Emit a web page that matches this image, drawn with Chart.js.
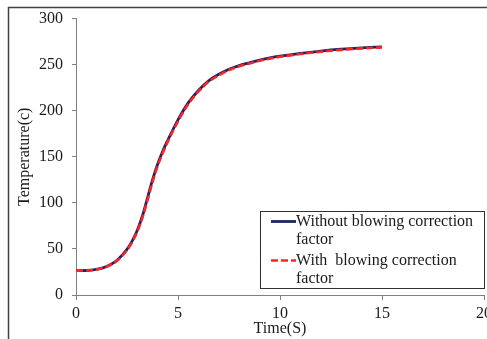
<!DOCTYPE html>
<html>
<head>
<meta charset="utf-8">
<script src="https://cdn.jsdelivr.net/npm/chart.js@4/dist/chart.umd.min.js"></script>
<style>
  html, body { margin: 0; padding: 0; overflow: hidden; background: #fff; }
  #wrap { position: relative; width: 487px; height: 339px; overflow: hidden; }
  #wrap canvas { position: absolute; left: 0; top: 0; }
</style>
</head>
<body>
<div id="wrap"><canvas id="c" width="500" height="339" style="width:500px;height:339px"></canvas></div>
<script>
// ---- data ----
const times = [0,0.5,1,1.5,2,2.5,2.75,3,3.25,3.5,3.75,4,4.25,4.5,5,5.5,6,6.5,7,7.5,8,8.5,9,9.5,10,11,12,13,14,15];
const withoutCorrection = [26.5,26.6,27.8,31,37.5,49.5,58.5,70,85.5,105,125,142,156,168,190,208.5,222,232.5,239.5,245,249,252,255,257.3,259.2,262.3,264.8,266.8,268.3,269.4];
const withCorrection = [26.5,26.6,27.6,30.7,37,48.7,57.3,68.5,83.5,102.5,122.5,140,154,166.5,188.5,207,220.8,231.5,238.5,244.2,248.2,251.3,254.3,256.6,258.5,261.6,264.1,266.1,267.7,268.8];
const seriesLabels = ["Without blowing correction factor", "With  blowing correction factor"];
const xTitle = "Time(S)";
const yTitle = "Temperature(c)";
const xTicks = [0,5,10,15,20];
const yTicks = [0,50,100,150,200,250,300];

const FONT = "'Liberation Serif', 'Times New Roman', serif";

function pts(xs, ys) { return xs.map((x, i) => ({x: x, y: ys[i]})); }

const framePlugin = {
  id: 'frame',
  beforeDraw(chart) {
    const ctx = chart.ctx;
    ctx.save();
    ctx.strokeStyle = '#404040';
    ctx.lineWidth = 1.5;
    ctx.beginPath();
    ctx.moveTo(8.5, 339);
    ctx.lineTo(8.5, 7.5);
    ctx.lineTo(500, 7.5);
    ctx.stroke();
    ctx.restore();
  }
};

const legendPlugin = {
  id: 'boxLegend',
  afterDraw(chart) {
    const ctx = chart.ctx;
    const bx = 260.5, by = 211.5, bw = 224, bh = 77;
    ctx.save();
    ctx.fillStyle = '#fff';
    ctx.fillRect(bx, by, bw, bh);
    ctx.strokeStyle = '#303030';
    ctx.lineWidth = 1;
    ctx.strokeRect(bx, by, bw, bh);
    ctx.font = '16px ' + FONT;
    ctx.textBaseline = 'middle';
    ctx.textAlign = 'left';
    const textX = 296, maxW = 185;
    let y = 221.5;
    chart.data.datasets.forEach((ds) => {
      const words = ds.label.split(' ');
      const lines = [];
      let cur = '';
      words.forEach((w) => {
        const test = cur === '' ? w : cur + ' ' + w;
        if (ctx.measureText(test).width > maxW && cur !== '') { lines.push(cur); cur = w; }
        else cur = test;
      });
      if (cur !== '') lines.push(cur);
      ctx.save();
      ctx.strokeStyle = ds.borderColor;
      ctx.lineWidth = ds.borderWidth;
      ctx.setLineDash(ds.borderDash || []);
      ctx.beginPath();
      ctx.moveTo(271, y);
      ctx.lineTo(296, y);
      ctx.stroke();
      ctx.restore();
      ctx.fillStyle = '#1a1a1a';
      lines.forEach((ln, k) => {
        ctx.fillText(ln.replace(/ {2}/g, '\u00a0 '), textX, y + k * 18);
      });
      y += (lines.length - 1) * 18 + 21;
    });
    ctx.restore();
  }
};

new Chart(document.getElementById('c'), {
  type: 'line',
  data: {
    datasets: [
      {
        label: seriesLabels[0],
        data: pts(times, withoutCorrection),
        borderColor: '#1c2566',
        borderWidth: 2.8,
        pointRadius: 0,
        cubicInterpolationMode: 'monotone',
        fill: false,
        order: 1
      },
      {
        label: seriesLabels[1],
        data: pts(times, withCorrection),
        borderColor: '#ff2424',
        borderWidth: 2.6,
        borderDash: [7, 3],
        pointRadius: 0,
        cubicInterpolationMode: 'monotone',
        fill: false,
        order: 0
      }
    ]
  },
  options: {
    responsive: false,
    animation: false,
    events: [],
    layout: { padding: { left: 0, right: 16, top: 18, bottom: 0 } },
    plugins: { legend: { display: false }, tooltip: { enabled: false } },
    scales: {
      x: {
        type: 'linear',
        min: 0, max: 20,
        afterBuildTicks(scale) { scale.ticks = xTicks.map(v => ({value: v})); },
        afterFit(scale) { scale.height = 44; },
        border: { display: true, color: '#808080', width: 1 },
        grid: { display: true, drawOnChartArea: false, drawTicks: true, tickLength: 5, color: '#808080' },
        ticks: { color: '#1a1a1a', font: { family: FONT, size: 16 }, padding: 4, maxRotation: 0 },
        title: { display: true, text: xTitle, color: '#1a1a1a', font: { family: FONT, size: 16 }, padding: { top: 0, bottom: 0.4 } }
      },
      y: {
        type: 'linear',
        min: 0, max: 300,
        afterBuildTicks(scale) { scale.ticks = yTicks.map(v => ({value: v})); },
        afterFit(scale) { scale.width = 76; },
        border: { display: true, color: '#808080', width: 1 },
        grid: { display: true, drawOnChartArea: false, drawTicks: true, tickLength: 4, color: '#808080' },
        ticks: { color: '#1a1a1a', font: { family: FONT, size: 16 }, padding: 9 },
        title: { display: true, text: yTitle, color: '#1a1a1a', font: { family: FONT, size: 16 }, padding: { top: 15.4, bottom: 0 } }
      }
    }
  },
  plugins: [framePlugin, legendPlugin]
});
</script>
</body>
</html>
